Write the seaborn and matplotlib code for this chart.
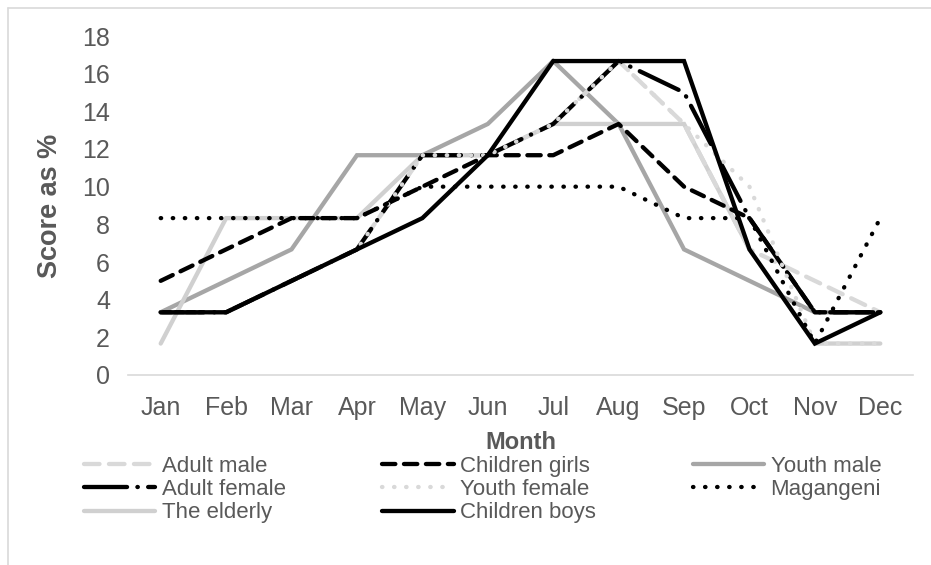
import numpy as np
import pandas as pd
import matplotlib
matplotlib.use("Agg")
import matplotlib.pyplot as plt
import seaborn as sns
from matplotlib.lines import Line2D

# Months on the x axis
months = ["Jan", "Feb", "Mar", "Apr", "May", "Jun", "Jul", "Aug", "Sep", "Oct", "Nov", "Dec"]

# Score as % per group
adult_male = [3.33, 3.33, 5.0, 6.67, 11.67, 11.67, 13.33, 16.67, 13.33, 6.67, 5.0, 3.33]
adult_female = [3.33, 3.33, 5.0, 6.67, 11.67, 11.67, 13.33, 16.67, 15.0, 8.33, 3.33, 3.33]
the_elderly = [1.67, 8.33, 8.33, 8.33, 11.67, 11.67, 13.33, 13.33, 13.33, 6.67, 1.67, 1.67]
children_girls = [5.0, 6.67, 8.33, 8.33, 10.0, 11.67, 11.67, 13.33, 10.0, 8.33, 3.33, 3.33]
youth_female = [3.33, 3.33, 5.0, 6.67, 11.67, 11.67, 13.33, 16.67, 13.33, 10.0, 1.67, 1.67]
children_boys = [3.33, 3.33, 5.0, 6.67, 8.33, 11.67, 16.67, 16.67, 16.67, 6.67, 1.67, 3.33]
youth_male = [3.33, 5.0, 6.67, 11.67, 11.67, 13.33, 16.67, 13.33, 6.67, 5.0, 3.33, 3.33]
magangeni = [8.33, 8.33, 8.33, 8.33, 10.0, 10.0, 10.0, 10.0, 8.33, 8.33, 1.67, 8.33]

series = {
    "Adult male": adult_male,
    "Adult female": adult_female,
    "The elderly": the_elderly,
    "Children girls": children_girls,
    "Youth female": youth_female,
    "Children boys": children_boys,
    "Youth male": youth_male,
    "Magangeni": magangeni,
}
legend_order = list(series.keys())

# drawing order (last on top)
draw_order = ["Youth male", "The elderly", "Adult male", "Children girls",
              "Adult female", "Youth female", "Magangeni", "Children boys"]

styles = {
    "Adult male":     dict(color="#d9d9d9", ls=(0, (3.6, 2.2))),
    "Adult female":   dict(color="#000000", ls=(0, (10.0, 2.4, 0.1, 2.4))),
    "The elderly":    dict(color="#d0d0d0", ls="-"),
    "Children girls": dict(color="#000000", ls=(0, (3.1, 2.0))),
    "Youth female":   dict(color="#d9d9d9", ls=(0, (0.1, 2.7))),
    "Children boys":  dict(color="#000000", ls="-"),
    "Youth male":     dict(color="#a6a6a6", ls="-"),
    "Magangeni":      dict(color="#000000", ls=(0, (0.1, 2.7))),
}

df = pd.DataFrame(series)
df["month"] = months
long_df = df.melt(id_vars="month", var_name="group", value_name="score")
long_df["x"] = long_df["month"].map({m: i for i, m in enumerate(months)})

sns.set_style("white")
plt.rcParams["font.family"] = ["Liberation Sans", "DejaVu Sans"]

fig = plt.figure(figsize=(9.31, 5.65), dpi=100)
ax = fig.add_axes([128 / 931, 1 - 375 / 565, (913 - 128) / 931, (375 - 36) / 565])

lw = 3.1
handles = {}
for name in draw_order:
    st = styles[name]
    sub = long_df[long_df["group"] == name]
    sns.lineplot(data=sub, x="x", y="score", ax=ax, color=st["color"],
                 linestyle=st["ls"], linewidth=lw, legend=False, sort=False)
    line = ax.lines[-1]
    line.set_dash_capstyle("round")
    line.set_solid_capstyle("round")
    line.set_solid_joinstyle("miter")
    handles[name] = Line2D([0], [0], color=st["color"], linestyle=st["ls"], linewidth=lw,
                           dash_capstyle="round", solid_capstyle="round")

ax.set_xlim(-0.5, 11.5)
ax.set_ylim(0, 18)
ax.set_yticks(np.arange(0, 19, 2))
ax.set_xticks(range(len(months)))
ax.set_xticklabels(months)
ax.tick_params(axis="both", length=0, labelsize=18, labelcolor="#595959")
ax.tick_params(axis="y", pad=13)
ax.tick_params(axis="x", pad=15)

for side in ["top", "right", "left"]:
    ax.spines[side].set_visible(False)
ax.spines["bottom"].set_color("#d9d9d9")
ax.spines["bottom"].set_linewidth(1.2)
ax.grid(False)

ax.set_xlabel("Month", fontsize=17, fontweight="bold", color="#595959", labelpad=8)
ax.set_ylabel("Score as %", fontsize=19.5, fontweight="bold", color="#595959", labelpad=14)

fig.legend([handles[n] for n in legend_order], legend_order, ncol=3,
           loc="upper left", bbox_to_anchor=(84 / 931, 1 - 456 / 565),
           frameon=False, fontsize=16, labelcolor="#595959",
           handlelength=3.2, handletextpad=0.3, columnspacing=4.35,
           labelspacing=0.1, borderpad=0, borderaxespad=0)

# chart area border (top and left edges visible)
fig.add_artist(Line2D([8 / 931, 8 / 931], [0, 1 - 8 / 565], color="#d9d9d9", lw=1.2))
fig.add_artist(Line2D([8 / 931, 1], [1 - 8 / 565, 1 - 8 / 565], color="#d9d9d9", lw=1.2))

fig.savefig("out.png", dpi=100)
